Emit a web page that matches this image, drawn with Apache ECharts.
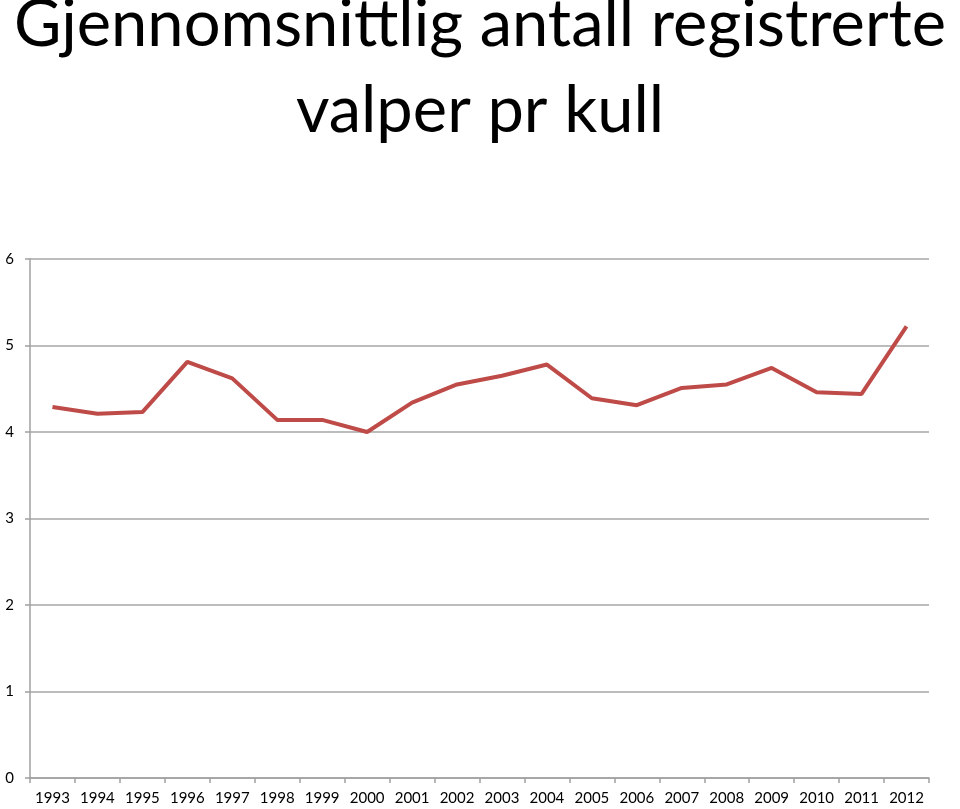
<!DOCTYPE html>
<html>
<head>
<meta charset="utf-8">
<script src="https://cdn.jsdelivr.net/npm/echarts@6/dist/echarts.min.js"></script>
<style>
html,body{margin:0;padding:0;background:#fff;}
#main{width:960px;height:809px;}
</style>
</head>
<body>
<div id="main"></div>
<script>
var titleText = 'Gjennomsnittlig antall registrerte\nvalper pr kull';
var years = ['1993','1994','1995','1996','1997','1998','1999','2000','2001','2002','2003','2004','2005','2006','2007','2008','2009','2010','2011','2012'];
var valpePerKull = [4.29,4.21,4.23,4.81,4.62,4.14,4.14,4.00,4.34,4.55,4.65,4.78,4.39,4.31,4.51,4.55,4.74,4.46,4.44,5.22];
var yMin = 0, yMax = 6, yStep = 1;

var chart = echarts.init(document.getElementById('main'), null, {renderer:'canvas'});
chart.setOption({
  animation: false,
  backgroundColor: '#ffffff',
  title: {
    text: titleText,
    left: 'center',
    top: -23,
    textStyle: {
      fontFamily: 'Lato',
      fontWeight: 'normal',
      fontSize: 65,
      lineHeight: 86,
      color: '#000000',
      align: 'center'
    }
  },
  grid: { left: 30, right: 31, top: 259, bottom: 31, containLabel: false },
  xAxis: {
    type: 'category',
    data: years,
    boundaryGap: true,
    axisLine: { show: true, lineStyle: { color: '#a0a0a0', width: 1.5 } },
    axisTick: { show: true, length: 5, alignWithLabel: false, lineStyle: { color: '#a0a0a0', width: 1.5 } },
    axisLabel: { margin: 13, interval: 0, fontFamily: 'Lato', fontSize: 15, color: '#000000' },
    splitLine: { show: false }
  },
  yAxis: {
    type: 'value',
    min: yMin, max: yMax, interval: yStep,
    axisLine: { show: true, lineStyle: { color: '#a0a0a0', width: 1.5 } },
    axisTick: { show: true, length: 5, inside: false, lineStyle: { color: '#a0a0a0', width: 1.5 } },
    axisLabel: { margin: 16, fontFamily: 'Lato', fontSize: 15, color: '#000000' },
    splitLine: { show: true, lineStyle: { color: '#a6a6a6', width: 1.5 } }
  },
  series: [{
    type: 'line',
    data: valpePerKull,
    symbol: 'none',
    smooth: false,
    lineStyle: { color: '#be4b48', width: 4 },
    itemStyle: { color: '#be4b48' }
  }]
});
</script>
</body>
</html>
